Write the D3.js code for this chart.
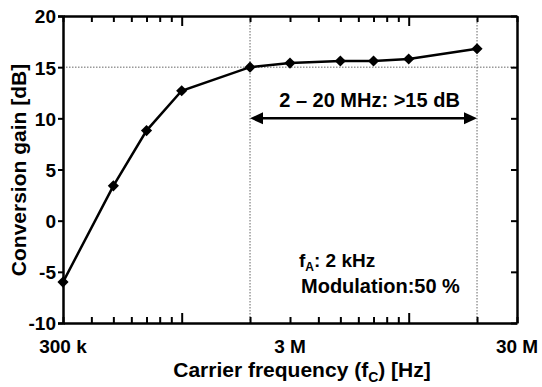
<!DOCTYPE html>
<html>
<head>
<meta charset="utf-8">
<script src="https://cdn.jsdelivr.net/npm/d3@7"></script>
<style>
  body { margin: 0; background: #fff; }
  text { font-family: "Liberation Sans", Arial, sans-serif; font-weight: bold; fill: #000; }
</style>
</head>
<body>
<div id="chart"></div>
<script>
// data
let freqs = [3e5, 5e5, 7e5, 1e6, 2e6, 3e6, 5e6, 7e6, 1e7, 2e7];
let gains = [-6.0, 3.4, 8.8, 12.7, 15.0, 15.4, 15.6, 15.6, 15.8, 16.8];
let yTicks = [-10, -5, 0, 5, 10, 15, 20];
let xLabelVals = [3e5, 3e6, 3e7];
let xLabelText = ["300 k", "3 M", "30 M"];

let width = 542, height = 387;
let margin = { top: 16, right: 25, bottom: 64, left: 63 };
let chartWidth = width - margin.left - margin.right;
let chartHeight = height - margin.top - margin.bottom;

let svg = d3.select("#chart").append("svg")
    .attr("width", width)
    .attr("height", height);

let g = svg.append("g").attr("transform", `translate(${margin.left}, ${margin.top})`);

let xScale = d3.scaleLog().domain([3e5, 3e7]).range([0, chartWidth]);
let yScale = d3.scaleLinear().domain([-10, 20]).range([chartHeight, 0]);

// dotted guide lines
let dotted = g.append("g")
    .attr("stroke", "#666")
    .attr("stroke-width", 1)
    .attr("stroke-dasharray", "1.5,1.5");
dotted.append("line")
    .attr("x1", 0).attr("x2", chartWidth)
    .attr("y1", yScale(15)).attr("y2", yScale(15));
[2e6, 2e7].forEach(f => {
    dotted.append("line")
        .attr("x1", xScale(f)).attr("x2", xScale(f))
        .attr("y1", 0).attr("y2", chartHeight);
});

// log ticks
let xTicks = xScale.ticks();
let isMajor = d => Math.abs(Math.log10(d) - Math.round(Math.log10(d))) < 1e-9;

let bottomAxis = g.append("g")
    .attr("transform", `translate(0, ${chartHeight})`)
    .call(d3.axisBottom(xScale).tickValues(xTicks).tickSizeOuter(0).tickSizeInner(-6).tickFormat(""));
bottomAxis.selectAll(".tick line").attr("y2", d => isMajor(d) ? -10 : -6);

let topAxis = g.append("g")
    .call(d3.axisTop(xScale).tickValues(xTicks).tickSizeOuter(0).tickSizeInner(-6).tickFormat(""));
topAxis.selectAll(".tick line").attr("y2", d => isMajor(d) ? 10 : 6);

let leftAxis = g.append("g")
    .call(d3.axisLeft(yScale).tickValues(yTicks).tickSizeOuter(0).tickSize(5).tickPadding(2)
        .tickFormat(d => String(d)));
leftAxis.selectAll("text").style("font-size", "19px").attr("dy", "0.36em");

let rightAxis = g.append("g")
    .attr("transform", `translate(${chartWidth}, 0)`)
    .call(d3.axisRight(yScale).tickValues(yTicks).tickSizeOuter(0).tickSizeInner(-6).tickFormat(""));

[bottomAxis, topAxis, leftAxis, rightAxis].forEach(a => {
    a.select(".domain").attr("stroke-width", 2.5);
    a.selectAll(".tick line").attr("stroke-width", 2);
});

// x tick labels
g.selectAll(".xlab")
    .data(xLabelVals)
    .enter()
    .append("text")
    .attr("class", "xlab")
    .attr("x", d => xScale(d))
    .attr("y", chartHeight + 30)
    .attr("text-anchor", "middle")
    .style("font-size", "19px")
    .text((d, i) => xLabelText[i]);

// line + diamonds
let line = d3.line()
    .x((d, i) => xScale(freqs[i]))
    .y((d, i) => yScale(gains[i]));
g.append("path")
    .datum(gains)
    .attr("fill", "none")
    .attr("stroke", "#000")
    .attr("stroke-width", 2.5)
    .attr("d", line);

g.selectAll(".pt")
    .data(gains)
    .enter()
    .append("path")
    .attr("class", "pt")
    .attr("d", d3.symbol(d3.symbolSquare, 62)())
    .attr("transform", (d, i) => `translate(${xScale(freqs[i])}, ${yScale(d)}) rotate(45)`)
    .attr("fill", "#000");

// double arrow 2-20 MHz
let ay = yScale(10);
let ax1 = xScale(2e6), ax2 = xScale(2e7);
g.append("line")
    .attr("x1", ax1 + 8).attr("x2", ax2 - 8)
    .attr("y1", ay).attr("y2", ay)
    .attr("stroke", "#000").attr("stroke-width", 2.5);
g.append("path")
    .attr("d", `M${ax1},${ay} L${ax1 + 13},${ay - 6} L${ax1 + 13},${ay + 6} Z`)
    .attr("fill", "#000");
g.append("path")
    .attr("d", `M${ax2},${ay} L${ax2 - 13},${ay - 6} L${ax2 - 13},${ay + 6} Z`)
    .attr("fill", "#000");

g.append("text")
    .attr("x", (ax1 + ax2) / 2 + 6)
    .attr("y", ay - 11)
    .attr("text-anchor", "middle")
    .style("font-size", "20px")
    .text("2 – 20 MHz: >15 dB");

// condition notes
let note = g.append("text")
    .attr("x", 236)
    .attr("y", 251)
    .style("font-size", "19px");
note.append("tspan").text("f");
note.append("tspan").attr("dy", 4).style("font-size", "12px").text("A");
note.append("tspan").attr("dy", -4).text(": 2 kHz");
g.append("text")
    .attr("x", 238)
    .attr("y", 277)
    .style("font-size", "20px")
    .text("Modulation:50 %");

// axis titles
let xt = svg.append("text")
    .attr("x", 302)
    .attr("y", 377)
    .attr("text-anchor", "middle")
    .style("font-size", "21px");
xt.append("tspan").text("Carrier frequency (f");
xt.append("tspan").attr("dy", 5).style("font-size", "14px").text("C");
xt.append("tspan").attr("dy", -5).text(") [Hz]");

svg.append("text")
    .attr("transform", "rotate(-90)")
    .attr("x", -170)
    .attr("y", 26)
    .attr("text-anchor", "middle")
    .style("font-size", "21px")
    .text("Conversion gain [dB]");
</script>
</body>
</html>
